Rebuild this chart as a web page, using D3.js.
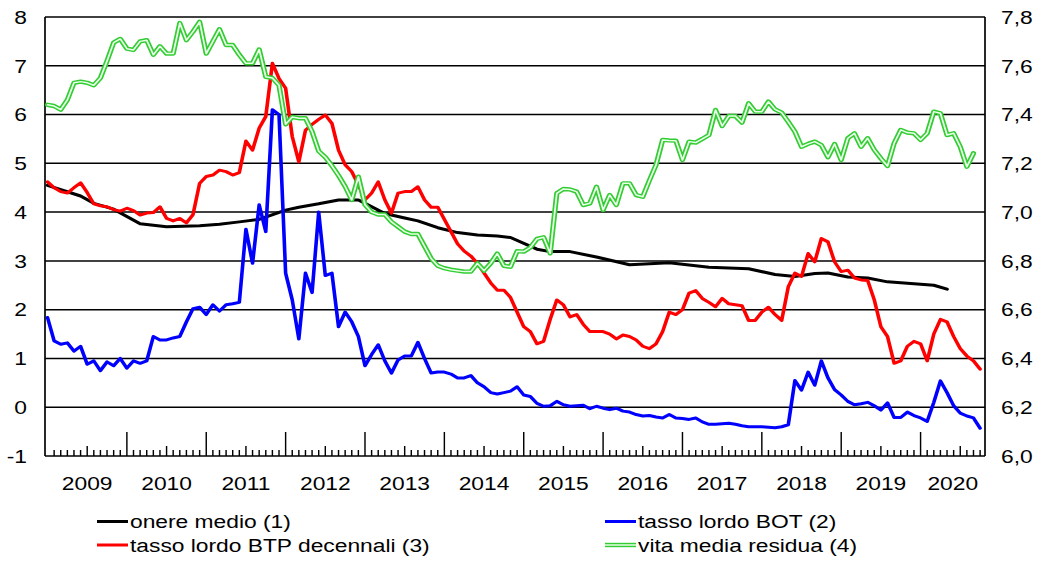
<!DOCTYPE html>
<html><head><meta charset="utf-8">
<script src="https://cdn.jsdelivr.net/npm/d3@7"></script>
<style>body{margin:0;background:#fff}svg{display:block}</style>
</head><body><svg id="c"></svg>
<script>
// ---- data (monthly, index 0 = Jan 2009) ----
const leftTicks = [-1, 0, 1, 2, 3, 4, 5, 6, 7, 8];
const rightTicks = [6.0, 6.2, 6.4, 6.6, 6.8, 7.0, 7.2, 7.4, 7.6, 7.8];
const years = [2009, 2010, 2011, 2012, 2013, 2014, 2015, 2016, 2017, 2018, 2019, 2020];
const seriesNames = ["onere medio (1)", "tasso lordo BOT (2)", "tasso lordo BTP decennali (3)", "vita media residua (4)"];

const btp = [
  4.62, 4.5, 4.42, 4.39, 4.5, 4.6, 4.4, 4.17, 4.13, 4.11, 4.05, 4.02,
  4.08, 4.03, 3.94, 3.98, 3.99, 4.11, 3.87, 3.82, 3.87, 3.78, 3.95, 4.59,
  4.73, 4.76, 4.86, 4.83, 4.76, 4.81, 5.46, 5.27, 5.72, 5.96, 7.05, 6.74,
  6.54, 5.55, 5.03, 5.68, 5.8, 5.9, 5.99, 5.82, 5.27, 4.97, 4.83, 4.56,
  4.25, 4.39, 4.62, 4.25, 3.98, 4.39, 4.42, 4.42, 4.52, 4.25, 4.1, 4.1,
  3.85, 3.6, 3.35, 3.2, 3.1, 2.95, 2.75, 2.55, 2.4, 2.4, 2.25, 1.95,
  1.65, 1.55, 1.3, 1.35, 1.8, 2.2, 2.1, 1.85, 1.9, 1.7, 1.55, 1.55,
  1.55, 1.5, 1.4, 1.48, 1.45, 1.38, 1.25, 1.2, 1.3, 1.55, 1.95, 1.9,
  2.0, 2.34, 2.39, 2.23, 2.15, 2.06, 2.23, 2.12, 2.1, 2.08, 1.78, 1.78,
  1.95, 2.05, 1.9, 1.78, 2.47, 2.75, 2.68, 3.15, 2.98, 3.46, 3.39, 2.98,
  2.78, 2.81, 2.65, 2.61, 2.6, 2.2, 1.65, 1.45, 0.9, 0.95, 1.25, 1.35,
  1.3, 0.95, 1.5, 1.8, 1.75, 1.45, 1.2, 1.05, 0.95, 0.78
];
const bot = [
  1.84, 1.36, 1.29, 1.32, 1.15, 1.25, 0.88, 0.95, 0.75, 0.93, 0.85, 1.0,
  0.8, 0.95, 0.9, 0.95, 1.45, 1.38, 1.38, 1.42, 1.45, 1.75, 2.02, 2.05,
  1.9, 2.1, 1.97, 2.1, 2.12, 2.15, 3.65, 2.95, 4.15, 3.6, 6.1, 6.0,
  2.75, 2.2, 1.4, 2.75, 2.35, 4.0, 2.7, 2.75, 1.65, 1.95, 1.75, 1.45,
  0.85, 1.08, 1.28, 0.95, 0.7, 0.97, 1.05, 1.05, 1.33, 1.0, 0.7, 0.72,
  0.72, 0.68, 0.6, 0.6, 0.65, 0.5, 0.42, 0.3, 0.27, 0.3, 0.33, 0.42,
  0.25, 0.22, 0.08, 0.02, 0.03, 0.12, 0.05, 0.02, 0.03, 0.04, -0.03, 0.02,
  -0.02, -0.05, -0.02, -0.08, -0.1, -0.15, -0.18, -0.17, -0.2, -0.22, -0.15, -0.22,
  -0.23, -0.25, -0.22, -0.3, -0.35, -0.35, -0.34, -0.33, -0.35, -0.38, -0.4, -0.4,
  -0.4, -0.41, -0.42, -0.4, -0.36, 0.55, 0.35, 0.72, 0.45, 0.95, 0.6, 0.36,
  0.25, 0.12, 0.05, 0.07, 0.1, 0.03, -0.06, 0.09, -0.21, -0.21, -0.1, -0.17,
  -0.22, -0.29, 0.1, 0.54, 0.3, 0.03, -0.12, -0.18, -0.22, -0.43
];
const vita = [
  7.44, 7.435, 7.42, 7.46, 7.53, 7.535, 7.53, 7.52, 7.55, 7.62, 7.695, 7.71,
  7.67, 7.665, 7.70, 7.705, 7.645, 7.68, 7.65, 7.65, 7.775, 7.705, 7.74, 7.78,
  7.65, 7.70, 7.75, 7.685, 7.685, 7.645, 7.61, 7.61, 7.667, 7.555, 7.55, 7.52,
  7.36, 7.39, 7.385, 7.385, 7.33, 7.25, 7.225, 7.19, 7.15, 7.105, 7.05, 7.145,
  7.03, 7.0, 6.99, 6.99, 6.96, 6.94, 6.92, 6.91, 6.91, 6.86, 6.81, 6.78,
  6.77, 6.764, 6.76, 6.756, 6.756, 6.79, 6.76, 6.79, 6.83, 6.78, 6.776, 6.84,
  6.838, 6.855, 6.89, 6.897, 6.831, 7.077, 7.095, 7.093, 7.084, 7.029, 7.036, 7.104,
  7.009, 7.07, 7.029, 7.118, 7.118, 7.07, 7.063, 7.13, 7.193, 7.296, 7.294, 7.293,
  7.214, 7.289, 7.285, 7.30, 7.316, 7.419, 7.353, 7.394, 7.394, 7.367, 7.446, 7.412,
  7.412, 7.453, 7.421, 7.408, 7.37, 7.33, 7.268, 7.28, 7.289, 7.275, 7.225, 7.279,
  7.214, 7.303, 7.323, 7.268, 7.303, 7.255, 7.22, 7.189, 7.282, 7.337, 7.326, 7.323,
  7.296, 7.323, 7.412, 7.405, 7.316, 7.323, 7.268, 7.186, 7.241
];
const onereMonth = [0, 5, 7, 10, 14, 18, 23, 26, 29, 32, 36, 38, 41, 44, 47, 48, 51, 54, 56, 59, 62, 65, 68, 70, 74, 76, 79, 83, 88, 94, 100, 106, 110, 113, 116, 118, 121, 124, 127, 132, 134, 136];
const onereVal   = [4.55, 4.33, 4.18, 4.06, 3.76, 3.70, 3.72, 3.75, 3.8, 3.85, 4.04, 4.1, 4.17, 4.25, 4.25, 4.18, 3.97, 3.88, 3.82, 3.68, 3.58, 3.53, 3.51, 3.48, 3.24, 3.19, 3.19, 3.08, 2.92, 2.96, 2.87, 2.84, 2.72, 2.68, 2.74, 2.75, 2.67, 2.65, 2.57, 2.52, 2.5, 2.42];

// ---- layout ----
const SX = 1.2;               // horizontal stretch of the original picture
const W = 1044 / SX, H = 572;
const X0 = 45 / SX, X1 = 985 / SX, Y0 = 17, Y1 = 456;
const FONT = "'Liberation Sans', Arial, sans-serif";

const svg = d3.select("#c").attr("width", 1044).attr("height", H)
  .attr("viewBox", `0 0 ${W} ${H}`).attr("preserveAspectRatio", "none");

const x = d3.scaleLinear().domain([-0.38, 141.74]).range([X0, X1]);
const yL = d3.scaleLinear().domain([-1, 8]).range([Y1, Y0]);
const yR = d3.scaleLinear().domain([6, 7.8]).range([Y1, Y0]);

// gridlines
svg.append("g").selectAll("line").data(leftTicks.filter(d => d > -1)).join("line")
  .attr("x1", X0).attr("x2", X1).attr("y1", d => yL(d)).attr("y2", d => yL(d))
  .attr("stroke", "#000").attr("stroke-width", 1.5);

// frame
const frame = svg.append("g").attr("stroke", "#000").attr("stroke-width", 1.4);
frame.append("line").attr("x1", X0).attr("x2", X0).attr("y1", Y0).attr("y2", Y1);
frame.append("line").attr("x1", X1).attr("x2", X1).attr("y1", Y0).attr("y2", Y1);
frame.append("line").attr("x1", X0).attr("x2", X1).attr("y1", Y1).attr("y2", Y1).attr("stroke-width", 1.5);

// month ticks
const months = d3.range(1, 142);
svg.append("g").selectAll("line").data(months).join("line")
  .attr("x1", d => x(d)).attr("x2", d => x(d))
  .attr("y1", Y1).attr("y2", d => Y1 - (d % 12 === 0 ? 24 : d % 12 === 6 ? 10 : 6))
  .attr("stroke", "#000").attr("stroke-width", 1.2);

// axis labels
const lab = svg.append("g").attr("font-family", FONT).attr("font-size", 19).attr("fill", "#000");
lab.selectAll(".yl").data(leftTicks).join("text")
  .attr("x", 27 / SX).attr("y", d => yL(d)).attr("text-anchor", "end")
  .attr("dominant-baseline", "central").text(d => d);
lab.selectAll(".yr").data(rightTicks).join("text")
  .attr("x", 1001 / SX).attr("y", d => yR(d)).attr("text-anchor", "start")
  .attr("dominant-baseline", "central").text(d => d.toFixed(1).replace(".", ","));
lab.selectAll(".yx").data(years).join("text")
  .attr("x", (d, i) => (Math.max(x(i * 12), X0) + Math.min(x(i * 12 + 12), X1)) / 2)
  .attr("y", 483).attr("text-anchor", "middle").attr("dominant-baseline", "central")
  .text(d => d);

// lines
const lineL = d3.line().x(d => x(d[0])).y(d => yL(d[1]));
const lineR = d3.line().x(d => x(d[0])).y(d => yR(d[1]));
const plot = svg.append("g").attr("fill", "none").attr("stroke-linejoin", "round").attr("stroke-linecap", "round");
plot.append("path").attr("d", lineL(onereMonth.map((m, i) => [m, onereVal[i]])))
  .attr("stroke", "#000").attr("stroke-width", 3);
plot.append("path").attr("d", lineL(bot.map((v, i) => [i, v])))
  .attr("stroke", "#0000ff").attr("stroke-width", 3);
plot.append("path").attr("d", lineL(btp.map((v, i) => [i, v])))
  .attr("stroke", "#ff0000").attr("stroke-width", 3);
const vd = lineR(vita.map((v, i) => [i, v]));
plot.append("path").attr("d", vd).attr("stroke", "#33cc33").attr("stroke-width", 4.4);
plot.append("path").attr("d", vd).attr("stroke", "#e8ffe8").attr("stroke-width", 1.5);

// legend
const leg = [
  {n: 0, c: "#000", x: 97, y: 521.5},
  {n: 1, c: "#0000ff", x: 605, y: 521.5},
  {n: 2, c: "#ff0000", x: 97, y: 545},
  {n: 3, c: "#33cc33", x: 605, y: 545, dbl: true}
];
const lg = svg.append("g").attr("font-family", FONT).attr("font-size", 19);
leg.forEach(d => {
  lg.append("line").attr("x1", d.x / SX).attr("x2", (d.x + 31) / SX).attr("y1", d.y).attr("y2", d.y)
    .attr("stroke", d.c).attr("stroke-width", d.dbl ? 4.4 : 3);
  if (d.dbl) lg.append("line").attr("x1", d.x / SX).attr("x2", (d.x + 31) / SX).attr("y1", d.y).attr("y2", d.y)
    .attr("stroke", "#e8ffe8").attr("stroke-width", 1.5);
  lg.append("text").attr("x", (d.x + 33) / SX).attr("y", d.y).attr("dominant-baseline", "central")
    .attr("fill", "#000").text(seriesNames[d.n]);
});
</script></body></html>
